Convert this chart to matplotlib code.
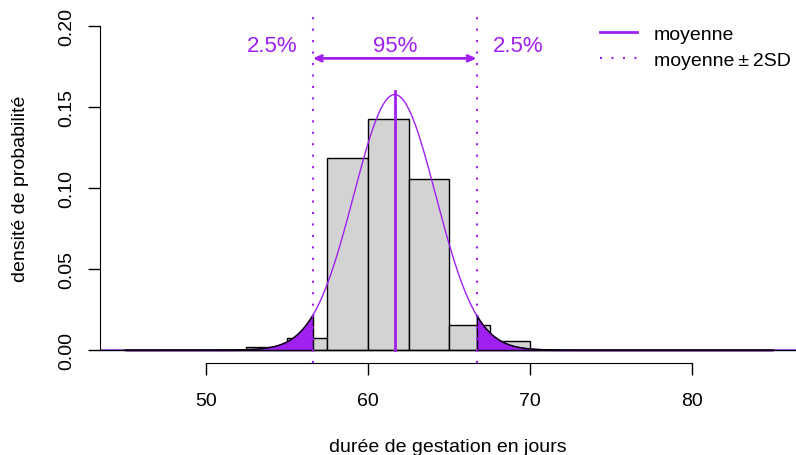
import matplotlib.pyplot as plt
import numpy as np
from matplotlib.lines import Line2D

plt.rcParams['font.family'] = ['Liberation Sans', 'DejaVu Sans']

# histogramme des durées de gestation (densités par classe de 2.5 jours)
bornes = np.arange(45, 85.1, 2.5)
densites = [0.0003, 0.0003, 0.0, 0.0017, 0.0072, 0.1185, 0.1426, 0.1058,
            0.0154, 0.0057, 0.0, 0.0003, 0.0003, 0.0, 0.0003, 0.0]

moyenne = 61.65
sd = 2.53
violet = '#A020F0'

def dnorm(x):
    return np.exp(-0.5 * ((x - moyenne) / sd) ** 2) / (sd * np.sqrt(2 * np.pi))

fig = plt.figure(figsize=(7.96, 4.56), dpi=100)
ax = fig.add_axes([100 / 796, 92 / 456, 696 / 796, 350 / 456])

largeurs = np.diff(bornes)
ax.bar(bornes[:-1], densites, width=largeurs, align='edge',
       color='#D3D3D3', edgecolor='black', linewidth=1)

# courbe normale
x = np.linspace(43.4, 86.5, 800)
ax.plot(x, dnorm(x), color=violet, lw=1)

# queues à 2.5% de chaque côté
bas, haut = moyenne - 2 * sd, moyenne + 2 * sd
xg = np.linspace(45, bas, 200)
ax.fill_between(xg, 0, dnorm(xg), color=violet, zorder=3)
ax.plot(xg, dnorm(xg), color='black', lw=1, zorder=4)
ax.plot([bas, bas], [0, dnorm(bas)], color='black', lw=1, zorder=4)
xd = np.linspace(haut, 85, 200)
ax.fill_between(xd, 0, dnorm(xd), color=violet, zorder=3)
ax.plot(xd, dnorm(xd), color='black', lw=1, zorder=4)
ax.plot([haut, haut], [0, dnorm(haut)], color='black', lw=1, zorder=4)

ax.axhline(0, color='black', lw=1, zorder=5)

# moyenne et moyenne +/- 2SD
ax.plot([moyenne, moyenne], [0, 0.16], color=violet, lw=2, zorder=6)
pointille = (0, (1, 4.5))
for v in (bas, haut):
    ax.axvline(v, color=violet, lw=1.5, linestyle=pointille, zorder=6)

ax.annotate('', xy=(bas, 0.18), xytext=(haut, 0.18),
            arrowprops=dict(arrowstyle='<->,head_length=0.45,head_width=0.2',
                            color=violet, lw=2, shrinkA=0, shrinkB=0))
ax.text(moyenne - 3 * sd, 0.188, '2.5%', color=violet, fontsize=16,
        ha='center', va='center')
ax.text(moyenne, 0.188, '95%', color=violet, fontsize=16, ha='center', va='center')
ax.text(moyenne + 3 * sd, 0.188, '2.5%', color=violet, fontsize=16,
        ha='center', va='center')

poignees = [Line2D([], [], color=violet, lw=2, label='moyenne'),
            Line2D([], [], color=violet, lw=1.5, linestyle=pointille,
                   label='moyenne\u2009±\u20092SD')]
ax.legend(handles=poignees, loc='upper left', bbox_to_anchor=(0.718, 0.965),
          frameon=False, fontsize=14, handlelength=1.9, handletextpad=0.9,
          labelspacing=0.45, borderpad=0, borderaxespad=0)

ax.set_xlim(50 - 106 / 16.2, 50 + 590 / 16.2)
ax.set_ylim(-0.008, 0.208)

for s in ('top', 'right'):
    ax.spines[s].set_visible(False)
ax.spines['left'].set_bounds(0, 0.2)
ax.spines['bottom'].set_bounds(50, 80)
ax.set_xticks([50, 60, 70, 80])
ax.set_yticks([0, 0.05, 0.10, 0.15, 0.20])
ax.set_yticklabels(['0.00', '0.05', '0.10', '0.15', '0.20'], rotation=90,
                   va='center')
ax.tick_params(axis='both', length=8.5, width=1, labelsize=14)
ax.tick_params(axis='x', pad=12.5)
ax.tick_params(axis='y', pad=9)

ax.set_xlabel('durée de gestation en jours', fontsize=14)
ax.xaxis.set_label_coords(0.5, -0.215)
ax.set_ylabel('densité de probabilité', fontsize=14)
ax.yaxis.set_label_coords(-0.102, 0.5)

fig.savefig('out.png', dpi=100)
